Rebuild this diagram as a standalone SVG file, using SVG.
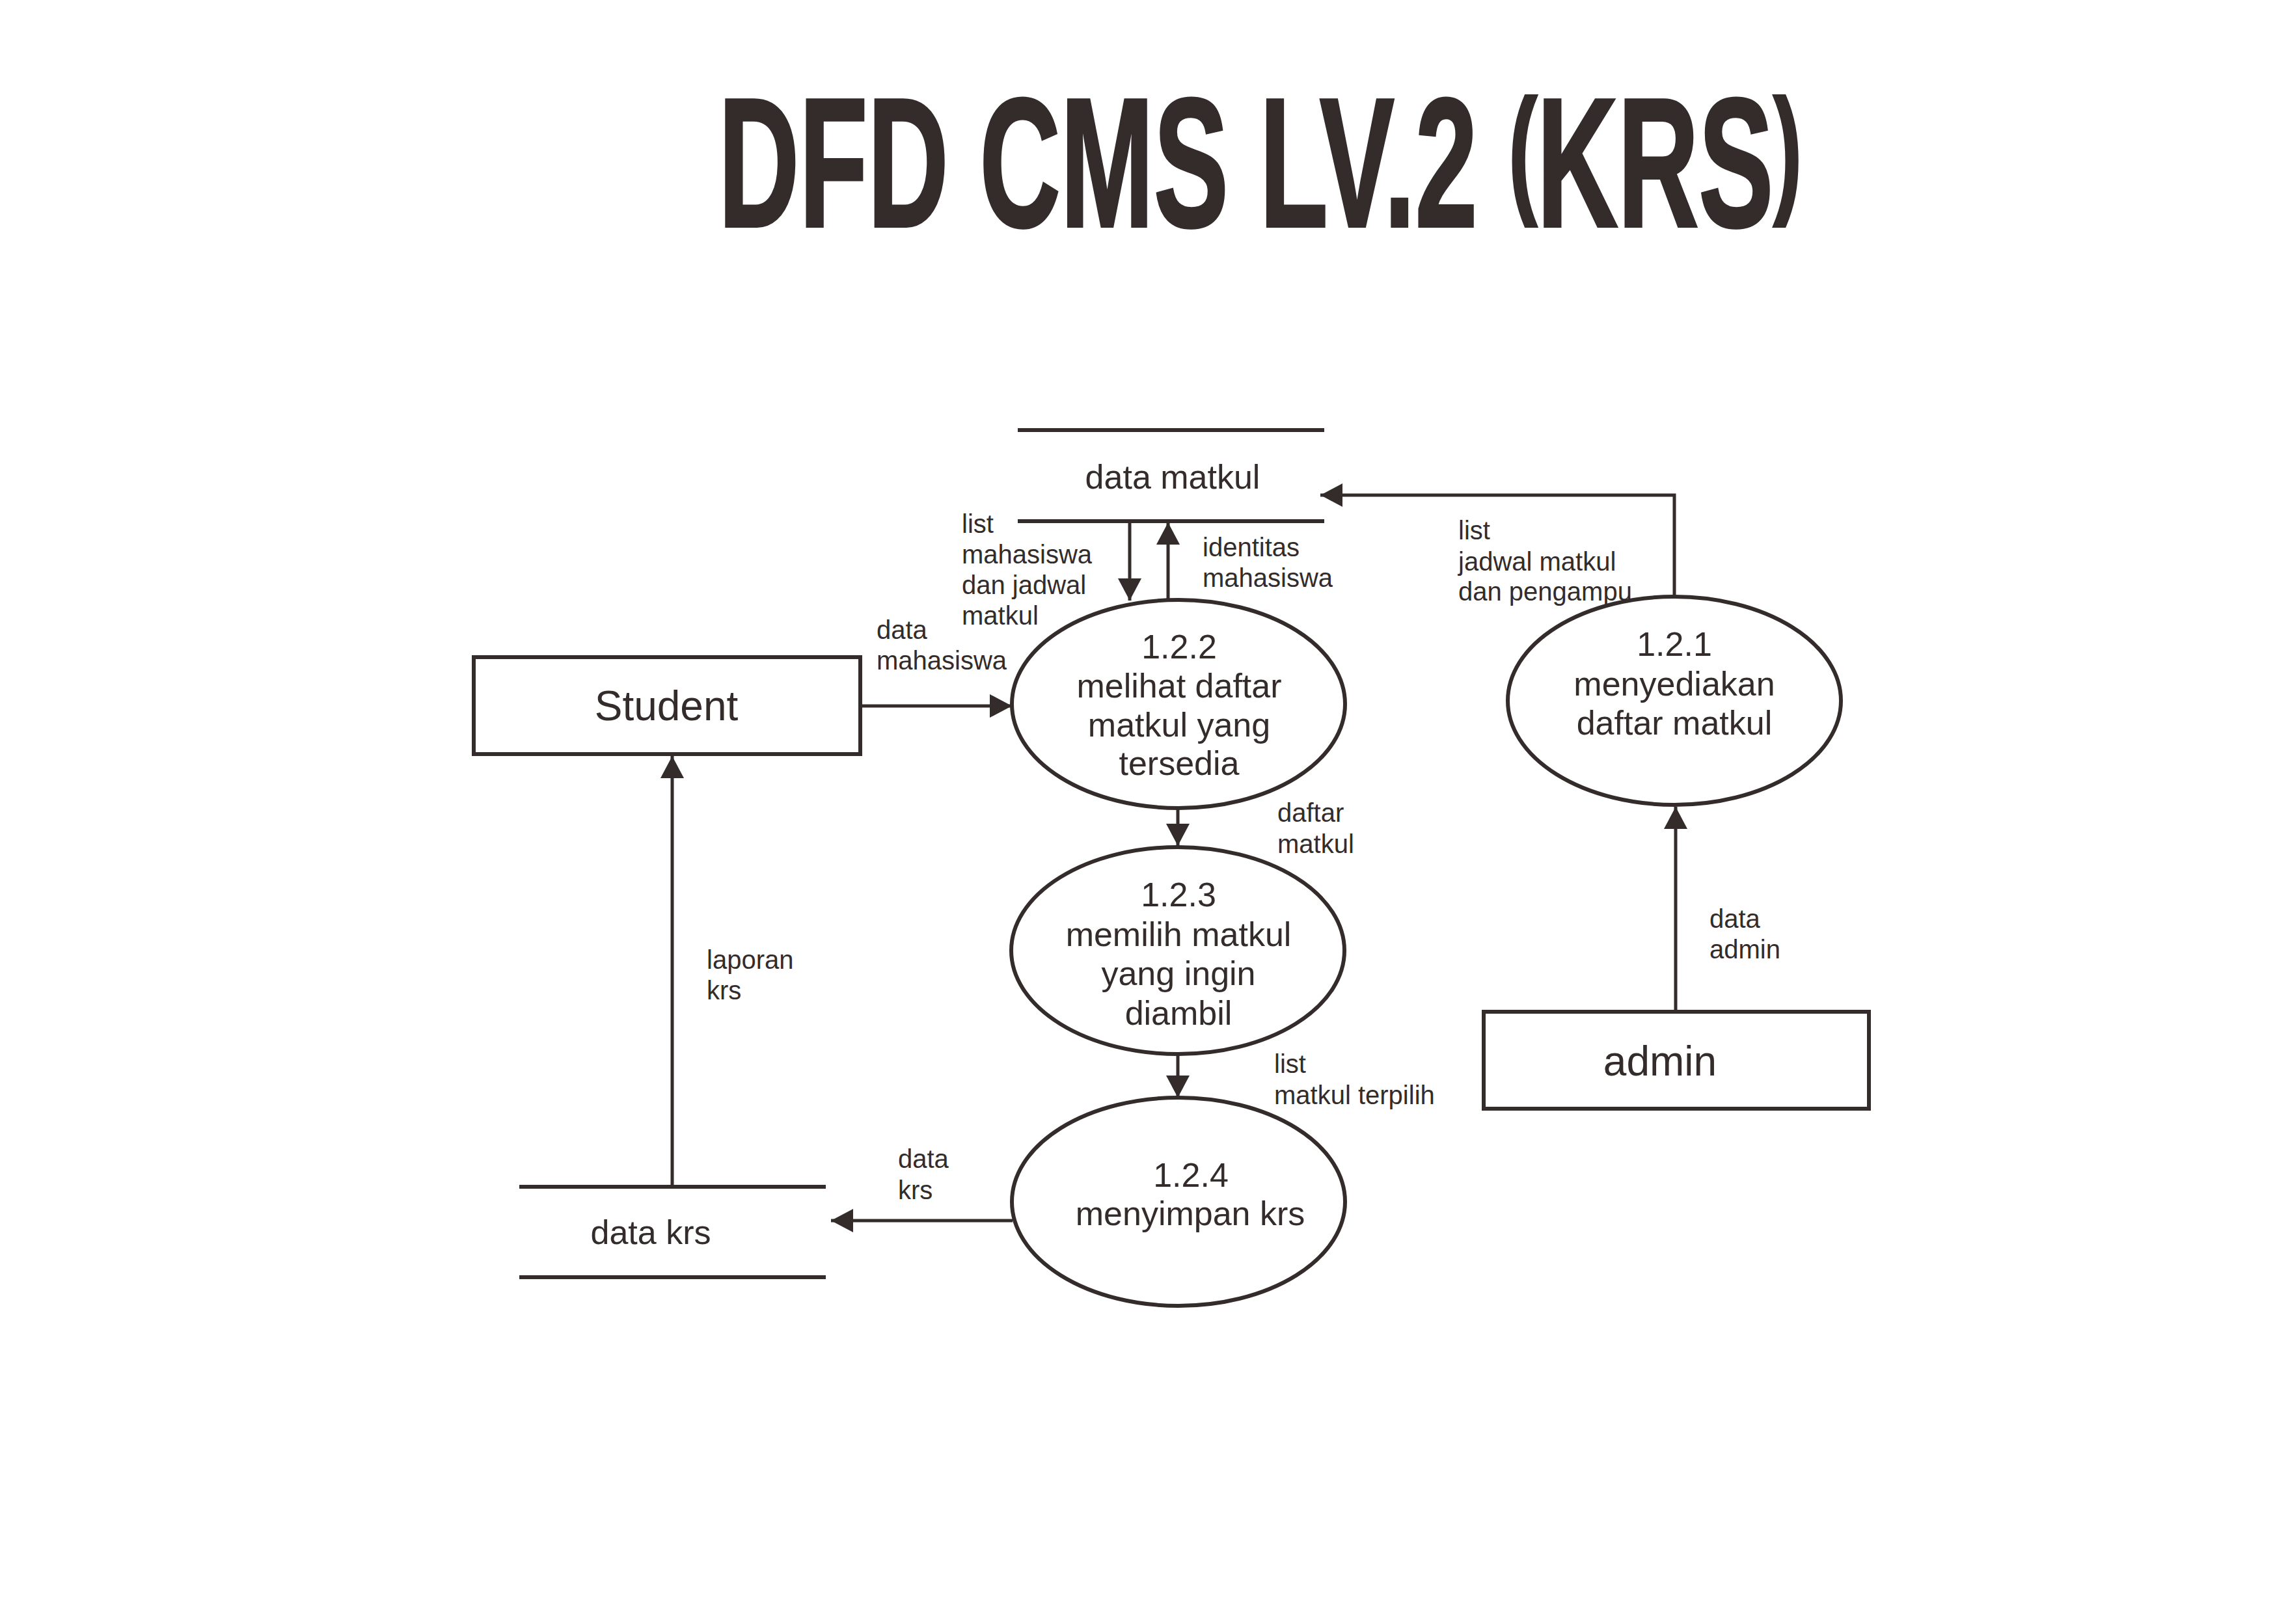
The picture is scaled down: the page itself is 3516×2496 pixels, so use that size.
<svg xmlns="http://www.w3.org/2000/svg" width="3516" height="2496" viewBox="0 0 3516 2496">
<style>
  .bg{fill:#ffffff}
  .shape{fill:none;stroke:#332c2b;stroke-width:6}
  .store{stroke:#332c2b;stroke-width:6}
  .conn{fill:none;stroke:#332c2b;stroke-width:5}
  .t{font-family:"Liberation Sans",Arial,sans-serif;fill:#332c2b}
  .node{font-size:52px;text-anchor:middle}
  .ent{font-size:64px;text-anchor:middle}
  .lbl{font-size:40px}
  .title{font-family:"Liberation Sans Narrow","Liberation Sans",Arial,sans-serif;font-weight:bold;font-size:283px;fill:#332c2b;stroke:#332c2b;stroke-width:4}
</style>
<defs>
  <marker id="arr" markerUnits="userSpaceOnUse" markerWidth="34" markerHeight="36" refX="34" refY="18" orient="auto" viewBox="0 0 34 36">
    <path d="M0,0 L34,18 L0,36 Z" fill="#332c2b"/>
  </marker>
</defs>
<rect class="bg" x="0" y="0" width="3516" height="2496"/>
<text class="title" x="1104" y="348" textLength="1665" lengthAdjust="spacingAndGlyphs">DFD CMS LV.2 <tspan font-size="216" dy="-45">(</tspan><tspan dy="45">KRS</tspan><tspan font-size="216" dy="-45">)</tspan></text>

<g id="connectors">
  <path class="conn" d="M2575,1555 L2575,1240" marker-end="url(#arr)"/>
  <path class="conn" d="M2573,916 L2573,761 L2029,761" marker-end="url(#arr)"/>
  <path class="conn" d="M1736,801 L1736,923" marker-end="url(#arr)"/>
  <path class="conn" d="M1795,921 L1795,803" marker-end="url(#arr)"/>
  <path class="conn" d="M1322,1085 L1555,1085" marker-end="url(#arr)"/>
  <path class="conn" d="M1810,1242 L1810,1300" marker-end="url(#arr)"/>
  <path class="conn" d="M1810,1620 L1810,1687" marker-end="url(#arr)"/>
  <path class="conn" d="M1556,1876 L1277,1876" marker-end="url(#arr)"/>
  <path class="conn" d="M1033,1824 L1033,1162" marker-end="url(#arr)"/>
  <g class="t lbl">
    <text x="1478" y="819">list</text>
    <text x="1478" y="866">mahasiswa</text>
    <text x="1478" y="913">dan jadwal</text>
    <text x="1478" y="960">matkul</text>
    <text x="1848" y="855">identitas</text>
    <text x="1848" y="902">mahasiswa</text>
    <text x="2241" y="829">list</text>
    <text x="2241" y="877">jadwal matkul</text>
    <text x="2241" y="923">dan pengampu</text>
    <text x="1347" y="982">data</text>
    <text x="1347" y="1029">mahasiswa</text>
    <text x="1963" y="1263">daftar</text>
    <text x="1963" y="1311">matkul</text>
    <text x="1958" y="1649">list</text>
    <text x="1958" y="1697">matkul terpilih</text>
    <text x="1380" y="1795">data</text>
    <text x="1380" y="1843">krs</text>
    <text x="1086" y="1489">laporan</text>
    <text x="1086" y="1536">krs</text>
    <text x="2627" y="1426">data</text>
    <text x="2627" y="1473">admin</text>
  </g>
</g>

<g id="data-matkul">
  <line class="store" x1="1564" y1="661" x2="2035" y2="661"/>
  <line class="store" x1="1564" y1="801" x2="2035" y2="801"/>
  <text class="t" x="1802" y="751" font-size="52" text-anchor="middle">data matkul</text>
</g>

<g id="data-krs">
  <line class="store" x1="798" y1="1824" x2="1269" y2="1824"/>
  <line class="store" x1="798" y1="1963" x2="1269" y2="1963"/>
  <text class="t" x="1000" y="1912" font-size="52" text-anchor="middle">data krs</text>
</g>

<g id="student">
  <rect class="shape" x="728" y="1010" width="594" height="149"/>
  <text class="t ent" x="1024" y="1107">Student</text>
</g>

<g id="admin">
  <rect class="shape" x="2280" y="1555" width="592" height="149"/>
  <text class="t ent" x="2551" y="1653">admin</text>
</g>

<g id="p121">
  <ellipse class="shape" cx="2573" cy="1077" rx="256" ry="160"/>
  <text class="t node" x="2573" y="1008">1.2.1</text>
  <text class="t node" x="2573" y="1069">menyediakan</text>
  <text class="t node" x="2573" y="1129">daftar matkul</text>
</g>

<g id="p122">
  <ellipse class="shape" cx="1811" cy="1082" rx="256" ry="160"/>
  <text class="t node" x="1812" y="1012">1.2.2</text>
  <text class="t node" x="1812" y="1072">melihat daftar</text>
  <text class="t node" x="1812" y="1132">matkul yang</text>
  <text class="t node" x="1812" y="1191">tersedia</text>
</g>

<g id="p123">
  <ellipse class="shape" cx="1810" cy="1461" rx="256" ry="159"/>
  <text class="t node" x="1811" y="1393">1.2.3</text>
  <text class="t node" x="1811" y="1454">memilih matkul</text>
  <text class="t node" x="1811" y="1514">yang ingin</text>
  <text class="t node" x="1811" y="1575">diambil</text>
</g>

<g id="p124">
  <ellipse class="shape" cx="1811" cy="1847" rx="256" ry="160"/>
  <text class="t node" x="1830" y="1824">1.2.4</text>
  <text class="t node" x="1829" y="1883">menyimpan krs</text>
</g>
</svg>
